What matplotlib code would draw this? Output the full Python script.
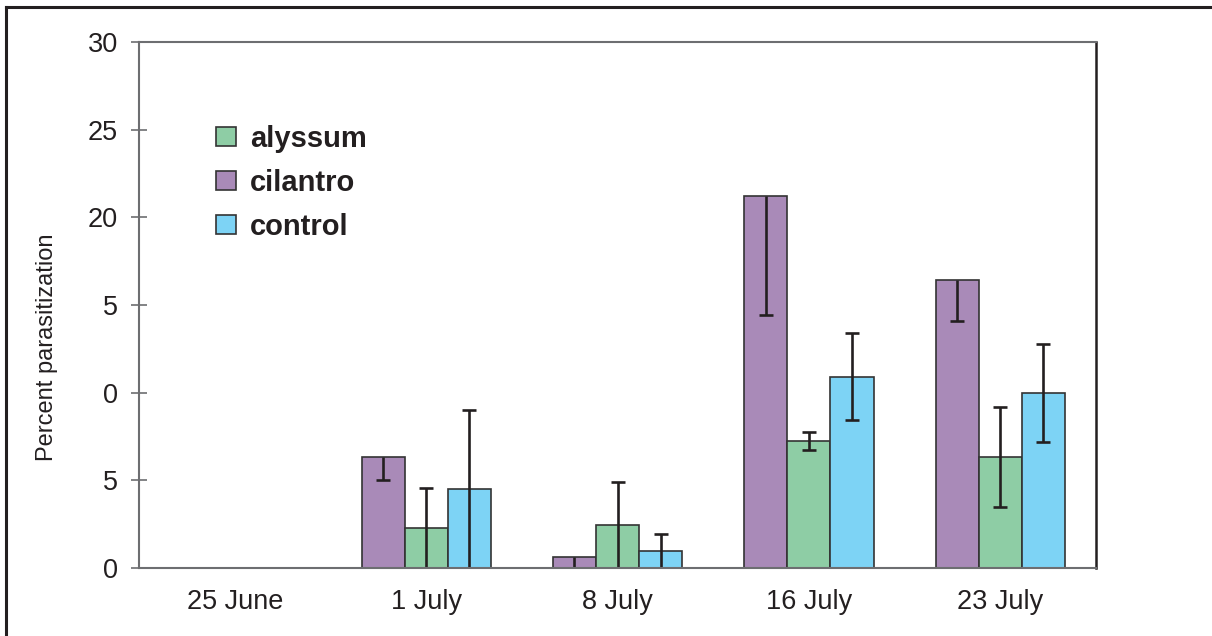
"""Grouped bar chart of percent parasitization by sampling date and border plant."""

import numpy as np
import matplotlib.pyplot as plt
from matplotlib.lines import Line2D
from matplotlib.patches import Patch

plt.rcParams["font.family"] = ["Liberation Sans", "DejaVu Sans"]

dates = ["25 June", "1 July", "8 July", "16 July", "23 July"]

cilantro = [0.0, 6.35, 0.65, 21.2, 16.4]
cilantro_err = [0.0, 1.33, 0.65, 6.75, 2.32]   # only the lower half is shown

alyssum = [0.0, 2.28, 2.45, 7.24, 6.35]
alyssum_err = [0.0, 2.28, 2.45, 0.5, 2.85]

control = [0.0, 4.5, 0.98, 10.91, 10.0]
control_err = [0.0, 4.5, 0.98, 2.48, 2.8]

ytick_vals = [0, 5, 10, 15, 20, 25, 30]
ytick_labels = ["0", "5", "0", "5", "20", "25", "30"]

C_CIL = "#a98ab8"
C_ALY = "#8ecda5"
C_CON = "#7dd3f5"
EDGE = "#333333"
ERR = "#231f20"
SPINE = "#6d6e71"
TEXT = "#231f20"


def draw_bars(ax, xs, ys, color):
    xs, ys = np.asarray(xs), np.asarray(ys)
    keep = ys > 0
    ax.bar(xs[keep], ys[keep], width=w, color=color, edgecolor=EDGE,
           linewidth=1.2, zorder=3)


def draw_errors(ax, xs, ys, errs, lower_only=False):
    xs, ys, errs = np.asarray(xs), np.asarray(ys), np.asarray(errs)
    keep = errs > 0
    # errors are cut off at zero, and a cut-off end gets no cap
    lower = np.minimum(errs[keep], ys[keep])
    clipped = errs[keep] >= ys[keep]
    upper = np.zeros(keep.sum()) if lower_only else errs[keep]
    eb = ax.errorbar(xs[keep], ys[keep], yerr=[lower, upper], fmt="none",
                     ecolor=ERR, elinewidth=1.9, capsize=4.7, capthick=1.9,
                     zorder=4)
    low_caps = eb[1][0]
    yd = np.asarray(low_caps.get_ydata(), dtype=float)
    yd[clipped] = np.nan
    low_caps.set_ydata(yd)
    if lower_only:
        eb[1][1].set_visible(False)


fig = plt.figure(figsize=(12.12, 6.36), dpi=100)
ax = fig.add_axes([0.1147, 0.1069, 0.7896, 0.8271])

x = np.arange(len(dates)) + 0.5
w = 0.225
draw_bars(ax, x - w, cilantro, C_CIL)
draw_bars(ax, x, alyssum, C_ALY)
draw_bars(ax, x + w, control, C_CON)

draw_errors(ax, x - w, cilantro, cilantro_err, lower_only=True)
draw_errors(ax, x, alyssum, alyssum_err)
draw_errors(ax, x + w, control, control_err)

ax.set_xlim(0, len(dates))
ax.set_ylim(0, 30)
ax.set_xticks(x)
ax.set_xticklabels(dates, fontsize=19.5, color=TEXT)
ax.set_yticks(ytick_vals)
ax.set_yticklabels(ytick_labels, fontsize=19.5, color=TEXT)
ax.tick_params(axis="x", length=0, pad=15)
ax.tick_params(axis="y", direction="inout", length=12, width=1.2, color=SPINE, pad=9)
ax.set_ylabel("Percent parasitization", fontsize=17, color=TEXT)
ax.yaxis.set_label_coords(-0.085, 0.42)

for side in ["top", "left", "bottom"]:
    ax.spines[side].set_color(SPINE)
    ax.spines[side].set_linewidth(1.5)
ax.spines["right"].set_color("#231f20")
ax.spines["right"].set_linewidth(1.8)
for sp in ax.spines.values():
    sp.set_zorder(5)

handles = [Patch(facecolor=c, edgecolor=EDGE, linewidth=1.2) for c in (C_ALY, C_CIL, C_CON)]
ax.legend(handles, ["alyssum", "cilantro", "control"], loc="upper left",
          bbox_to_anchor=(0.053, 0.893), frameon=False,
          prop={"size": 21, "weight": "bold"}, handlelength=0.68, handleheight=0.64,
          handletextpad=0.48, labelspacing=0.55, labelcolor=TEXT)

# outer frame (top and left edges)
fig.add_artist(Line2D([0.005, 1.0], [0.989, 0.989], color="#231f20", lw=2.2))
fig.add_artist(Line2D([0.005, 0.005], [0.0, 0.989], color="#231f20", lw=2.2))

fig.savefig("out.png", dpi=100, facecolor="white")
